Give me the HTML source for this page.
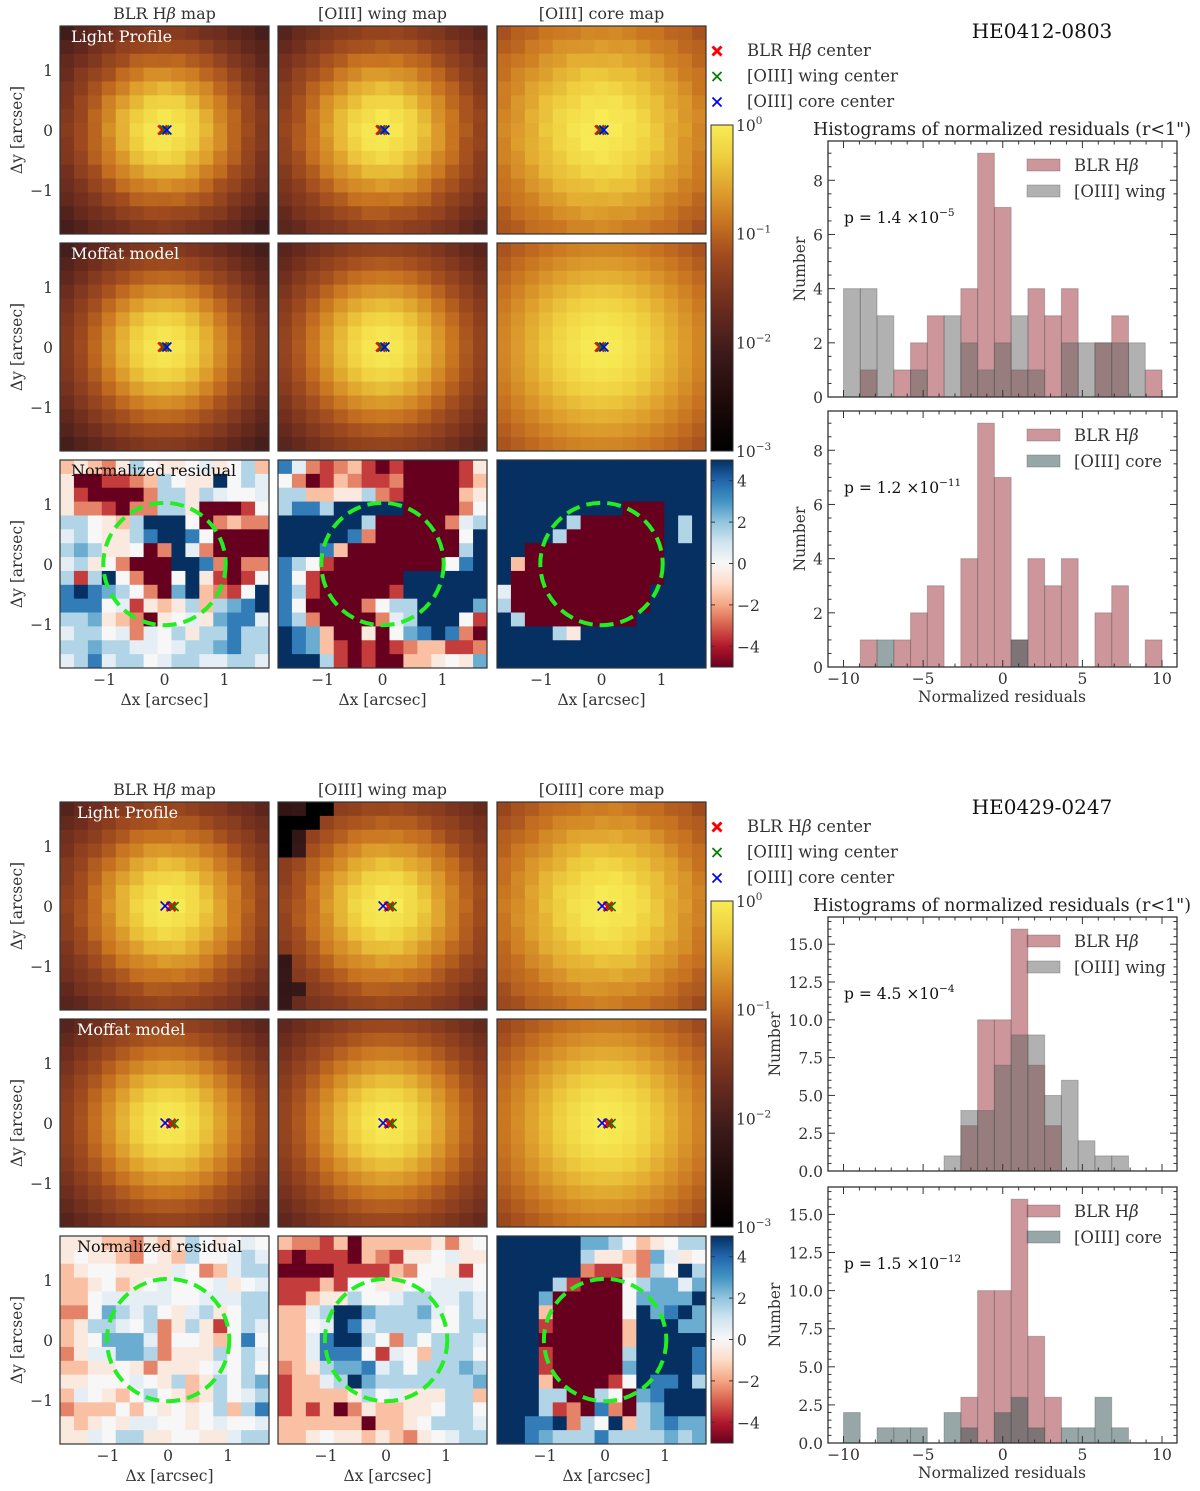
<!DOCTYPE html>
<html><head><meta charset="utf-8">
<style>
html,body{margin:0;padding:0;background:#fff;}
svg{display:block;font-family:"DejaVu Serif","Liberation Serif",serif;}
</style></head>
<body>
<svg id="fig" width="1200" height="1491" viewBox="0 0 1200 1491" xmlns="http://www.w3.org/2000/svg"></svg>
<script>
// ---------- DATA ----------
const histMin = -10, histMax = 10, histBins = 19;
const obj1Blr  = [0,1,0,1,2,3,0,4,9,7,1,4,3,4,0,2,3,0,1];
const obj1Wing = [4,4,3,0,1,0,3,2,1,2,3,1,0,2,2,2,2,2,0];
const obj1Core = [0,0,1,0,0,0,0,0,0,0,1,0,0,0,0,0,0,0,0];
const obj2Blr  = [0,0,0,0,0,0,0,3,10,10,16,7,3,0,0,0,0,0,0];
const obj2Wing = [0,0,0,0,0,0,1,4,4,7,9,9,5,6,2,1,1,0,0];
const obj2Core = [2,0,1,1,1,0,2,1,0,2,3,1,0,1,1,3,1,0,0];
const obj1YTicks = [0,2,4,6,8];
const obj2YTicks = [0,2.5,5,7.5,10,12.5,15];
const objNames = ["HE0412-0803","HE0429-0247"];
const pTexts = [["1.4","−5","1.2","−11"],["4.5","−4","1.5","−12"]];
// residual level codes
const levelCodes = "DRrSopwlbmBN";
const levelValues = [-5,-3.5,-2.5,-2,-1.5,-0.5,0,0.5,1.5,2.5,3.5,5];
const obj1Res1 = ["oporpbwppwlpwbo","pDDRRrobwppNwbl","pRDDDDrbbpblwwl","prrRDrrbbpDDDRw","bbwpobNNNwDrorr","lbwppbBNNBwDDDD","bmbppwDrNlrDDDD","lbpwrDDDNNBrDrr","bRbNwrDDwNpRDRw","BNBmbwrDmNorRwN","BBBwlRpopbobmBN","bbmporDpwlpmBBl","lbbwlrlwbpbbBbb","bbmbbllwlbbmBbb","lbBlbbwlbbllbbl"];
const obj1Res2 = ["BlrRroRDRDDDDRp","wrDRorRRrDDDDRo","bbooppbrRDDDDop","bBBbNNNNNDDDDrw","NNNNNNbDDDDDrlb","NNNNNBrDDDDDDwN","NNNBoDDDDDDDDbN","BbwRDDDDDDDDwBN","BwRDDDDDDNNNNNN","BbRDDDDDRNNNNNN","BwDDDDrwbbNNNNm","BbrDDDDrlbNNNwR","NBmoDDpDwmBNBrD","NBmoRDRDRrooRRr","NNNbRDRDDoopwpm"];
const obj1Res3 = ["NNNNNNNNNNNNNNN","NNNNNNNNNNNNNNN","NNNNNNNNNNNNNNN","NNNNNNNNNDDDNNN","NNNNNbDDDDDDNbN","NNNNbDDDDDDDNbN","NNDDDDDDDDDDNNN","NoDDDDDDDDDDNNN","NDDDDDDDDDDDNNN","lDDDDDDDDDDNNNN","bDDDDDDDDDDNNNN","NbDDDDDDDDNNNNN","NNNNbpNNNNNNNNN","NNNNNNNNNNNNNNN","NNNNNNNNNNNNNNN"];
const obj2Res1 = ["pppoorpopbwpwlw","pwpporwpobwwlbl","opwwpppplwrolbb","oopwopwlwwwlpwl","oowlllllwwlllbb","rrwmblbwplbpwbb","opbblwbrpbpRwbl","opwmmmlrwwpowBw","rpllmmbrpppbwbl","ooppwprpppwlwbw","ppwwwlwpbopbwbm","olwpowbwpopbwlb","rooowowpwpwbobB","popwpllwwpwlwwl","pplwbbppwwpplbb"];
const obj2Res2 = ["orrRoDoooooprpw","RDRRRDorRppwlpp","DDDDRRRRorwwpRw","RRRoRwwppwwlllw","RRoppbwwlbbllbl","oolbNNmbbbmlwbl","oowlNBlbbbbwwbb","oolBNNbwrbwbbbl","oolBBBwRlwobbbw","ropbmmBlbwbbbmb","RoolbNmbbbbbbbm","Roooopbwlpppbbo","RoRoDrpooppwbbw","ooooooDoopwbbbl","oopwppoporpwlbb"];
const obj2Res3 = ["NNNNNNmmbwopwbb","NNNNNNbppormlpw","NNNNNNrRRprbwNb","NNNNbRDDDwbmmlm","NNNmDDDDDwmmmmN","NNNoDDDDDwNmBNm","NNNRDDDDDoNNNmm","NNNDDDDDDoNNNNN","NNNRDDDDDbNNNNB","NNNRDDDDDmNNNNB","NNNoDDDDRwNBBNb","NNNbbDDbwDmBNNN","NNNbRrDBrDbmNNN","NNBBNrbwNobmBmm","NNBmbbbBbbbbmbm"];
// Moffat-like profile parameters per map [obj][map]: core width, power index
const profileWidth = [[0.9,0.95,1.2],[0.95,0.95,1.15]];
const profilePower = [[2.3,2.2,1.7],[2.2,2.1,1.75]];
// profile centres (arcsec) per object
const profileCx = [0.0, 0.06];
// masked (near-zero) cells in obj2 wing light profile: [row,col]
const obj2WingMasked = [[0,2],[0,3],[1,0],[1,1],[1,2],[2,0],[3,0]];
const obj2WingDark = [[0,0],[0,1],[2,1],[3,1],[11,0],[12,0],[13,0],[14,0],[13,1]];
// centre markers [blr, wing, core] (x,y arcsec)
const obj1Markers = [[-0.03,0],[0.0,0],[0.04,0]];
const obj2Markers = [[0.05,-0.01],[0.10,-0.01],[-0.05,0]];

// ---------- HELPERS ----------
const NS = "http://www.w3.org/2000/svg";
const svg = document.getElementById("fig");
function mk(tag, attrs, parent){
  const e = document.createElementNS(NS, tag);
  for (const k in attrs) e.setAttribute(k, attrs[k]);
  (parent || svg).appendChild(e);
  return e;
}
function txt(x, y, s, size, anchor, parent, fill){
  const t = mk("text", {x:x, y:y, "font-size":size, "text-anchor":anchor||"middle", fill:fill||"#333"}, parent);
  t.textContent = s;
  return t;
}
function lerpColor(stops, s){
  s = Math.max(0, Math.min(1, s));
  for (let i=1;i<stops.length;i++){
    if (s <= stops[i][0]){
      const a = stops[i-1], b = stops[i];
      const f = (s-a[0])/(b[0]-a[0] || 1);
      const c = [0,1,2].map(j => Math.round(a[1][j] + f*(b[1][j]-a[1][j])));
      return "rgb(" + c.join(",") + ")";
    }
  }
  const l = stops[stops.length-1][1];
  return "rgb(" + l.join(",") + ")";
}
const heatStops = [[0,[0,0,0]],[0.15,[30,10,10]],[0.3,[60,26,26]],[0.45,[110,45,30]],[0.6,[160,75,30]],[0.7,[200,115,32]],[0.8,[222,160,45]],[0.9,[238,205,62]],[1,[248,236,85]]];
const rdbuStops = [[0,[103,0,31]],[0.1,[178,24,43]],[0.2,[214,96,77]],[0.3,[244,165,130]],[0.4,[253,219,199]],[0.5,[247,247,247]],[0.6,[209,229,240]],[0.7,[146,197,222]],[0.8,[67,147,195]],[0.9,[33,102,172]],[1,[5,48,97]]];
function heatColor(logv){ return lerpColor(heatStops, (logv+3)/3); }
function resColor(v){ return lerpColor(rdbuStops, (v+5)/10); }

// ---------- LAYOUT ----------
const colX = [60, 278, 497];
const panelW = 209, panelH = 208, N = 15;
const pxPerArc = 60;
const objTop = [26, 802];
const rowOff = [0, 217, 434];
const mapTitles = ["BLR Hβ map","[OIII] wing map","[OIII] core map"];
const resData = [[obj1Res1,obj1Res2,obj1Res3],[obj2Res1,obj2Res2,obj2Res3]];
const markersAll = [obj1Markers, obj2Markers];
const markerColors = ["#ff0000","#008000","#0000ff"];
const clipDefs = mk("defs", {});

function drawMarker(g, x, y, color, w, size){
  const m = mk("g", {}, g);
  
  
  mk("line", {x1:x-size, y1:y-size, x2:x+size, y2:y+size, stroke:color, "stroke-width":w}, m);
  mk("line", {x1:x-size, y1:y+size, x2:x+size, y2:y-size, stroke:color, "stroke-width":w}, m);
}

for (let o=0;o<2;o++){
  const og = mk("g", {});
  
  
  const top = objTop[o];
  for (let c=0;c<3;c++){
    const t = txt(colX[c]+panelW/2, top-7, "", 16, "middle", og);
    
    
    if (c===0){ t.append("BLR H"); const ts = mk("tspan", {"font-style":"italic"}, t); ts.textContent="β"; t.append(" map"); }
    else t.textContent = mapTitles[c];
  }
  for (let r=0;r<3;r++){
    for (let c=0;c<3;c++){
      const x0 = colX[c], y0 = top + rowOff[r];
      const pg = mk("g", {}, og);
      
      
      const cw = panelW/N, ch = panelH/N;
      const cxArc = profileCx[o];
      for (let i=0;i<N;i++){
        for (let j=0;j<N;j++){
          let fill;
          if (r<2){
            const ax = (j - 7) * (panelW/N) / pxPerArc - cxArc;
            const ay = (7 - i) * (panelH/N) / pxPerArc;
            const rr = Math.sqrt(ax*ax+ay*ay);
            const a = profileWidth[o][c], b = profilePower[o][c];
            let lv = -b*Math.log10(1 + (rr/a)*(rr/a));
            if (o===1 && c===1 && r===0){
              if (obj2WingMasked.some(p=>p[0]===i&&p[1]===j)) lv = -3;
              else if (obj2WingDark.some(p=>p[0]===i&&p[1]===j)) lv = -2.2;
            }
            if (r===0) lv += ((i*7+j*3)%5-2)*0.015;
            fill = heatColor(lv);
          } else {
            const code = resData[o][c][i][j];
            const idx = levelCodes.indexOf(code);
            const v = idx >= 0 ? levelValues[idx] : 0;
            fill = resColor(v);
          }
          const cell = mk("rect", {x:(x0+j*cw).toFixed(2), y:(y0+i*ch).toFixed(2), width:(cw+0.4).toFixed(2), height:(ch+0.4).toFixed(2), fill:fill}, pg);
          
          
        }
      }
      const cx = x0 + panelW/2 + cxArc*pxPerArc, cy = y0 + panelH/2;
      if (r<2){
        const mks = markersAll[o];
        for (let k=0;k<3;k++){
          drawMarker(pg, cx + mks[k][0]*pxPerArc, cy - mks[k][1]*pxPerArc, markerColors[k], k===0?2.6:1.6, 4.5);
        }
      } else {
        const circ = mk("circle", {cx:cx, cy:cy, r:pxPerArc*1.02, fill:"none", stroke:"#22ee22", "stroke-width":4, "stroke-dasharray":"14 7"}, pg);
        
        
      }
      const fr = mk("rect", {x:x0, y:y0, width:panelW, height:panelH, fill:"none", stroke:"#333", "stroke-width":1.2}, pg);
      
      
      if (c===0){
        const lab = ["Light Profile","Moffat model","Normalized residual"][r];
        const lt = txt(x0 + (o===1?17:11), y0+16, lab, 16, "start", pg, r<2?"#fff":"#111");
        
        
        [1,0,-1].forEach(v=>{
          const yt = txt(x0-7, cy - v*pxPerArc + 6, v<0?"−1":String(v), 15.5, "end", pg);
          
          
        });
        const yl = txt(0,0,"Δy [arcsec]",15.5,"middle",pg);
        yl.setAttribute("transform","translate(22,"+cy+") rotate(-90)");
        
        
      }
      if (r===2){
        [-1,0,1].forEach(v=>{
          const xt = txt(cx + v*pxPerArc, y0+panelH+17, v<0?"−1":String(v), 15.5, "middle", pg);
          
          
        });
        const xl = txt(x0+panelW/2 + (o===1?5:0), y0+panelH+37, "Δx [arcsec]", 15.5, "middle", pg);
        
        
      }
    }
  }
  const gid = "hg"+o, rid = "rg"+o;
  const lg = mk("linearGradient", {id:gid, x1:0, y1:1, x2:0, y2:0}, clipDefs);
  heatStops.forEach(s=>mk("stop",{offset:s[0], "stop-color":"rgb("+s[1].join(",")+")"}, lg));
  const rg = mk("linearGradient", {id:rid, x1:0, y1:1, x2:0, y2:0}, clipDefs);
  rdbuStops.forEach(s=>mk("stop",{offset:s[0], "stop-color":"rgb("+s[1].join(",")+")"}, rg));
  const cb1 = mk("rect", {x:711, y:top+99, width:22, height:326, fill:"url(#"+gid+")", stroke:"#333"}, og);
  
  
  [0,-1,-2,-3].forEach((e,k)=>{
    const yy = top+99 + k*326/3;
    const t = txt(736, yy+6, "10", 15.5, "start", og);
    const s = mk("tspan", {"font-size":10.5, dy:-7}, t); s.textContent = e===0?"0":"−"+(-e);
    
    
  });
  const cb2 = mk("rect", {x:711, y:top+434, width:22, height:207, fill:"url(#"+rid+")", stroke:"#333"}, og);
  
  
  [4,2,0,-2,-4].forEach(v=>{
    const yy = top+434 + (5-v)/10*207;
    mk("line",{x1:711,y1:yy,x2:715,y2:yy,stroke:"#333"},og);
    mk("line",{x1:729,y1:yy,x2:733,y2:yy,stroke:"#333"},og);
    const t = txt(737, yy+6, v<0?"−"+(-v):String(v), 15.5, "start", og);
    
    
  });
  const legTexts = [["BLR H","β"," center"],["[OIII] wing center"],["[OIII] core center"]];
  for (let k=0;k<3;k++){
    const yy = top + 25 + k*25.5;
    const lgG = mk("g", {}, og);
    
    
    drawMarker(lgG, 717, yy, markerColors[k], k===0?3:1.8, 4.5);
    const t = txt(747, yy+5, "", 16.5, "start", lgG);
    t.append(legTexts[k][0]);
    if (legTexts[k].length>1){ const s=mk("tspan",{"font-style":"italic"},t); s.textContent=legTexts[k][1]; t.append(legTexts[k][2]); }
  }
  const title = txt(1042, top+12, objNames[o], 20, "middle", og, "#111");
  
  
  const ht = txt(1002, top+109, "Histograms of normalized residuals (r<1\")", 17.5, "middle", og, "#222");
  
  
}

// ---------- HISTOGRAMS ----------
const hx0 = 828, hx1 = 1177;
function xs(v){ return 843.5 + (v - histMin) * (1162 - 843.5) / (histMax - histMin); }
function drawHist(top, bottom, ymax, yTicks, minorStep, blr, other, otherColor, otherLabel, pIdx, objIdx, showX){
  const g = mk("g", {});
  
  
  const ys = v => bottom - v * (bottom - top) / ymax;
  const bw = (histMax - histMin) / histBins;
  [[blr,"rgba(155,45,55,0.5)","blr"],[other,otherColor,"other"]].forEach(sr=>{
    sr[0].forEach((cnt,i)=>{
      if (!cnt) return;
      const xa = xs(histMin + i*bw), xb = xs(histMin + (i+1)*bw);
      const b = mk("rect",{x:xa, y:ys(cnt), width:xb-xa, height:bottom-ys(cnt), fill:sr[1], stroke:"rgba(90,90,90,0.35)", "stroke-width":1}, g);
      
      
    });
  });
  mk("rect",{x:hx0, y:top, width:hx1-hx0, height:bottom-top, fill:"none", stroke:"#333", "stroke-width":1.3}, g);
  for (let v=histMin; v<=histMax; v++){
    const major = v % 5 === 0, L = major ? 7 : 3.5, x = xs(v);
    mk("line",{x1:x,y1:bottom,x2:x,y2:bottom-L,stroke:"#333"},g);
    mk("line",{x1:x,y1:top,x2:x,y2:top+L,stroke:"#333"},g);
    if (major && showX){
      const t = txt(x, bottom+17, v<0?"−"+(-v):String(v), 15.5, "middle", g);
      
      
    }
  }
  for (let v=0; v<=ymax+1e-9; v+=minorStep){
    const y = ys(v);
    const major = yTicks.some(t=>Math.abs(t-v)<1e-6), L = major?7:3.5;
    mk("line",{x1:hx0,y1:y,x2:hx0+L,y2:y,stroke:"#333"},g);
    mk("line",{x1:hx1,y1:y,x2:hx1-L,y2:y,stroke:"#333"},g);
  }
  yTicks.forEach(v=>{
    const t = txt(823, ys(v)+6, objIdx===0 ? String(v) : v.toFixed(1), 15.5, "end", g);
    
    
  });
  const yl = txt(0,0,"Number",15.5,"middle",g);
  yl.setAttribute("transform","translate("+(objIdx===0?805:780)+","+((top+bottom)/2)+") rotate(-90)");
  
  
  if (showX){
    const xl = txt(1002, bottom+35, "Normalized residuals", 15.5, "middle", g);
    
    
  }
  [["BLR H","rgba(155,45,55,0.5)"],[otherLabel,otherColor]].forEach((e,k)=>{
    const yy = top + 24 + k*26;
    const lg = mk("g",{},g);
    
    
    mk("rect",{x:1027,y:yy-6,width:33,height:12,fill:e[1],stroke:"rgba(90,90,90,0.35)"},lg);
    const t = txt(1074, yy+6, e[0], 16.5, "start", lg);
    if (k===0){ const s = mk("tspan",{"font-style":"italic"},t); s.textContent="β"; }
  });
  const p = pTexts[objIdx];
  const pt = txt(844, top+82, "p = "+p[pIdx*2]+" ×10", 15.5, "start", g, "#111");
  const sup = mk("tspan",{"font-size":10.5,dy:-7},pt); sup.textContent = p[pIdx*2+1];
  
  
}
const wingCol = "rgba(100,100,100,0.5)", coreCol = "rgba(47,79,79,0.5)";
drawHist(141, 397, 9.45, obj1YTicks, 0.5, obj1Blr, obj1Wing, wingCol, "[OIII] wing", 0, 0, false);
drawHist(411, 667, 9.45, obj1YTicks, 0.5, obj1Blr, obj1Core, coreCol, "[OIII] core", 1, 0, true);
drawHist(917, 1171, 16.8, obj2YTicks, 0.5, obj2Blr, obj2Wing, wingCol, "[OIII] wing", 0, 1, false);
drawHist(1187, 1443, 16.8, obj2YTicks, 0.5, obj2Blr, obj2Core, coreCol, "[OIII] core", 1, 1, true);
</script>
</body></html>
